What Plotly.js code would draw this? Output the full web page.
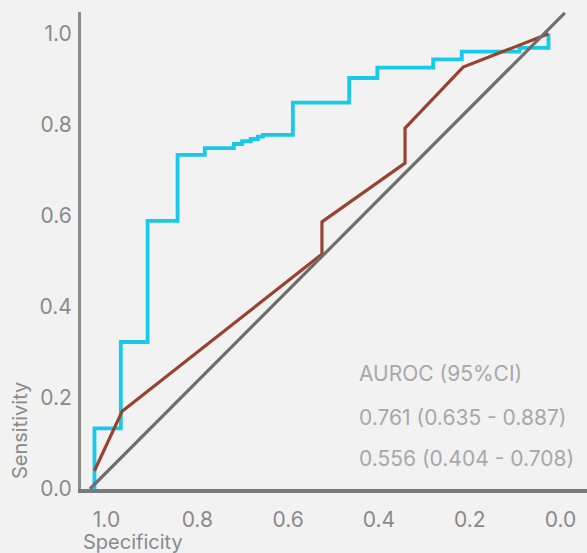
<!DOCTYPE html>
<html>
<head>
<meta charset="utf-8">
<script src="https://cdn.plot.ly/plotly-3.0.1.min.js"></script>
<style>html,body{margin:0;padding:0;background:#f2f2f2;}#chart{width:587px;height:553px;}</style>
</head>
<body>
<div id="chart"></div>
<script>
// Model A (cyan step ROC curve): specificity / sensitivity corner points
const specA = [1.000, 0.942, 0.883, 0.817, 0.757, 0.693, 0.675, 0.656, 0.640, 0.629, 0.563, 0.439, 0.377, 0.254, 0.191, 0.064, 0.000, 0.000];
const sensA = [0.000, 0.133, 0.323, 0.589, 0.734, 0.749, 0.758, 0.764, 0.769, 0.774, 0.778, 0.849, 0.903, 0.926, 0.944, 0.961, 0.969, 1.000];

// Model B (brown ROC curve)
const specB = [1.000, 0.939, 0.499, 0.499, 0.316, 0.316, 0.188, 0.000];
const sensB = [0.040, 0.171, 0.516, 0.587, 0.716, 0.793, 0.927, 1.000];

// Reference (chance) diagonal
const specRef = [1.010, -0.036];
const sensRef = [0.000, 1.046];

const tickVals = [1.0, 0.8, 0.6, 0.4, 0.2, 0.0];
const tickText = ["1.0", "0.8", "0.6", "0.4", "0.2", "0.0"];

const legendLines = ["AUROC (95%CI)", "0.761 (0.635 - 0.887)", "0.556 (0.404 - 0.708)"];
const xTitle = "Specificity";
const yTitle = "Sensitivity";

const FONT = "Inter, 'Open Sans', sans-serif";

const traces = [
  {x: specA, y: sensA, mode: "lines", line: {color: "#19c9e9", width: 3.8, shape: "vh"}, hoverinfo: "skip"},
  {x: specB, y: sensB, mode: "lines", line: {color: "#98432f", width: 3.2}, hoverinfo: "skip"},
  {x: specRef, y: sensRef, mode: "lines", line: {color: "#6e6e6e", width: 3.2}, hoverinfo: "skip"}
];

const annotations = legendLines.map((t, i) => ({
  text: t, xref: "paper", yref: "paper", x: (357 - 81) / 506, y: (489 - [373, 417, 458][i]) / 477,
  xanchor: "left", yanchor: "middle", showarrow: false,
  font: {family: FONT, size: 21, color: "#a8a8a8"}
}));
annotations.push({
  text: xTitle, xref: "paper", yref: "paper", x: (133 - 81) / 506, y: (489 - 542) / 477,
  xanchor: "center", yanchor: "middle", showarrow: false,
  font: {family: FONT, size: 20, color: "#8a8a8a"}
});
annotations.push({
  text: yTitle, xref: "paper", yref: "paper", x: (20 - 81) / 506, y: (489 - 431) / 477,
  xanchor: "center", yanchor: "middle", showarrow: false, textangle: -90,
  font: {family: FONT, size: 20, color: "#8a8a8a"}
});

const layout = {
  width: 587, height: 553,
  margin: {l: 81, r: 0, t: 12, b: 64, pad: 0},
  paper_bgcolor: "#f2f2f2", plot_bgcolor: "#f2f2f2",
  showlegend: false,
  xaxis: {
    range: [1.0297, -0.0848], showgrid: false, zeroline: false,
    showline: true, linecolor: "#7a7a7a", linewidth: 4,
    tickvals: tickVals, ticktext: tickText, ticks: "",
    ticklabelshift: -12, ticklabelstandoff: 9,
    tickfont: {family: FONT, size: 21, color: "#8a8a8a"}
  },
  yaxis: {
    range: [0, 1.048], showgrid: false, zeroline: false,
    showline: true, linecolor: "#8c8c8c", linewidth: 3,
    tickvals: tickVals, ticktext: tickText, ticks: "",
    ticklabelstandoff: 2,
    tickfont: {family: FONT, size: 21, color: "#8a8a8a"}
  },
  annotations: annotations
};

Plotly.newPlot("chart", traces, layout, {displayModeBar: false, staticPlot: true});
</script>
</body>
</html>
